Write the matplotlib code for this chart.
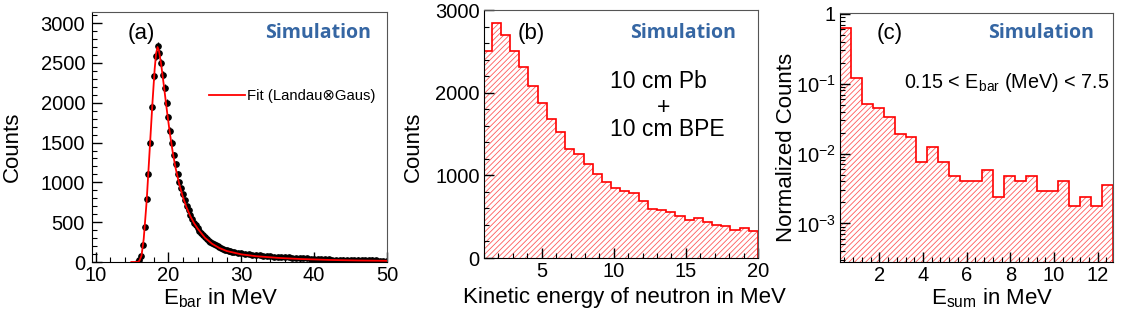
import numpy as np
import matplotlib
matplotlib.use('Agg')
import matplotlib.pyplot as plt
from matplotlib.ticker import MultipleLocator, FixedLocator, FixedFormatter, LogLocator, NullFormatter

# ---- data ----
# (a) Ebar spectrum: counts per bin (0.25 MeV bins up to 29 MeV, 0.5 MeV after)
ebar_fine_counts = [4, 22, 70, 210, 440, 790, 1110, 1500, 1950, 2330,
                    2590, 2710, 2630, 2500, 2350, 2190, 2000, 1820, 1650, 1500,
                    1350, 1230, 1110, 1010, 930, 850, 780, 705, 650, 595,
                    540, 495, 462, 425, 395, 362, 338, 312, 292, 270,
                    255, 236, 222, 208, 196, 185, 174, 165, 156, 149,
                    141, 135, 128, 122]
ebar_tail_counts = [113, 108, 101, 97, 91, 87, 83, 79, 75, 71,
                    68, 65, 62, 59, 57, 54, 51, 49, 47, 45,
                    43, 41, 39, 37, 35, 33, 31, 30, 28, 27,
                    26, 25, 24, 23, 22, 21, 20, 19, 19, 18,
                    17, 16]
fit_x = [14.9, 15.8, 16.0, 16.3, 16.6, 17.0, 17.4, 17.8, 18.1, 18.3, 18.5, 18.7,
         19.0, 19.4, 19.8, 20.2, 20.6, 21.0, 21.5, 22.0, 22.5, 23.0, 23.5, 24.0,
         25.0, 26.0, 27.0, 28.0, 30.0, 32.0, 35.0, 38.0, 42.0, 46.0, 50.0]
fit_y = [0, 0, 15, 80, 290, 760, 1380, 2000, 2420, 2620, 2700, 2650,
         2480, 2190, 1890, 1610, 1370, 1170, 970, 810, 680, 575, 490, 420,
         305, 228, 175, 138, 96, 73, 52, 38, 26, 19, 15]

# (b) neutron kinetic energy histogram
ke_counts = [2500, 2840, 2700, 2510, 2310, 2085, 1875, 1685, 1530, 1315,
             1260, 1135, 1020, 915, 845, 815, 785, 685, 598, 575,
             555, 503, 463, 483, 431, 395, 383, 342, 362, 330]

# (c) Esum, normalized
esum_counts = [0.62, 0.12, 0.051, 0.045, 0.033, 0.019, 0.0173, 0.0075, 0.0125, 0.0075,
               0.0047, 0.0040, 0.0040, 0.0058, 0.00238, 0.0047, 0.0040, 0.0047, 0.0029, 0.0029,
               0.0040, 0.0018, 0.00238, 0.0018, 0.0036]

# ---- style ----
plt.rcParams['font.family'] = ['Liberation Sans', 'DejaVu Sans']
plt.rcParams['mathtext.fontset'] = 'custom'
plt.rcParams['mathtext.rm'] = 'Liberation Sans'
plt.rcParams['mathtext.it'] = 'Liberation Sans:italic'
plt.rcParams['hatch.linewidth'] = 0.6

W, H = 1121, 317
BLUE = '#3566a3'
fig = plt.figure(figsize=(W / 100, H / 100), dpi=100)


def px_axes(l, t, r, b):
    return fig.add_axes([l / W, 1 - b / H, (r - l) / W, (b - t) / H])


def px_text(x, y, s, **kw):
    fig.text(x / W, 1 - y / H, s, **kw)


def root_style(ax):
    for side in ['top', 'right']:
        ax.spines[side].set_color('#555555')
    ax.tick_params(which='both', direction='in', top=False, right=False, labelsize=14.5, pad=3)
    ax.tick_params(which='major', length=7, width=1)
    ax.tick_params(which='minor', length=3.5, width=0.8)


def place_labels(ax, xl, xx, xy, yl, yx, yy):
    ax.set_xlabel(xl, fontsize=16)
    ax.set_ylabel(yl, fontsize=16)
    ax.xaxis.set_label_coords(xx / W, 1 - xy / H, transform=fig.transFigure)
    ax.yaxis.set_label_coords(yx / W, 1 - yy / H, transform=fig.transFigure)
    ax.xaxis.label.set_va('center')
    ax.yaxis.label.set_va('center')


def hatched_hist(ax, values, edges, base):
    ax.stairs(values, edges, baseline=base, fill=True, facecolor='none',
              edgecolor='#ff5a5a', linewidth=0, hatch='//////')
    ax.stairs(values, edges, baseline=base, color='#ff0000', linewidth=1.2)


# ---- (a) ----
ax1 = px_axes(92, 12, 387, 262)
ebar_x = np.concatenate([np.arange(15.75, 29.01, 0.25), np.arange(29.5, 50.01, 0.5)])
ebar_y = np.array(ebar_fine_counts + ebar_tail_counts, dtype=float)
ax1.errorbar(ebar_x, ebar_y, yerr=np.sqrt(ebar_y), fmt='o', color='black', ms=3.8,
             elinewidth=0.9, capsize=0, zorder=2)
ax1.plot(fit_x, fit_y, color='#ff0000', lw=1.3, zorder=3, label='Fit (Landau\u2297Gaus)')
ax1.set_xlim(9.5, 50)
ax1.set_ylim(0, 3140)
ax1.xaxis.set_major_locator(MultipleLocator(10))
ax1.xaxis.set_minor_locator(MultipleLocator(2))
ax1.yaxis.set_major_locator(MultipleLocator(500))
ax1.yaxis.set_minor_locator(MultipleLocator(100))
root_style(ax1)
ax1.tick_params(axis='y', pad=5)
place_labels(ax1, r'E$_{\rm bar}$ in MeV', 221, 298, 'Counts', 12, 147)
ax1.legend(loc='center left', bbox_to_anchor=(209 / W, 1 - 96 / H), bbox_transform=fig.transFigure,
           frameon=False, fontsize=10.7, borderpad=0, borderaxespad=0, handlelength=2.4,
           handletextpad=0.15)
px_text(128, 33, '(a)', fontsize=16, va='center')
px_text(265, 33, 'Simulation', fontsize=14, fontweight='bold', color=BLUE, va='center',
        family='Open Sans')

# ---- (b) ----
ax2 = px_axes(484, 10, 758, 258)
hatched_hist(ax2, ke_counts, np.linspace(0.9, 20, len(ke_counts) + 1), 0)
ax2.set_xlim(1, 20)
ax2.set_ylim(0, 3000)
ax2.xaxis.set_major_locator(MultipleLocator(5))
ax2.xaxis.set_minor_locator(MultipleLocator(1))
ax2.yaxis.set_major_locator(MultipleLocator(1000))
ax2.yaxis.set_minor_locator(MultipleLocator(200))
root_style(ax2)
place_labels(ax2, 'Kinetic energy of neutron in MeV', 624, 298, 'Counts', 413, 147)
px_text(518, 33, '(b)', fontsize=16, va='center')
px_text(630, 33, 'Simulation', fontsize=14, fontweight='bold', color=BLUE, va='center',
        family='Open Sans')
px_text(610, 82, '10 cm Pb', fontsize=16.5, va='center')
px_text(664, 107, '+', fontsize=16.5, va='center', ha='center')
px_text(610, 130, '10 cm BPE', fontsize=16.5, va='center')

# ---- (c) ----
ax3 = px_axes(840, 12.7, 1113, 262)
hatched_hist(ax3, esum_counts, np.linspace(0.2, 12.7, len(esum_counts) + 1), 1e-6)
ax3.set_yscale('log')
ax3.set_xlim(0.2, 12.7)
ax3.set_ylim(2.8e-4, 1.04)
ax3.xaxis.set_major_locator(MultipleLocator(2))
ax3.xaxis.set_minor_locator(MultipleLocator(0.4))
ax3.yaxis.set_major_locator(FixedLocator([1e-3, 1e-2, 1e-1, 1]))
ax3.yaxis.set_major_formatter(FixedFormatter([r'$10^{-3}$', r'$10^{-2}$', r'$10^{-1}$', '1']))
ax3.yaxis.set_minor_locator(LogLocator(base=10, subs=np.arange(2, 10)))
ax3.yaxis.set_minor_formatter(NullFormatter())
root_style(ax3)
place_labels(ax3, r'E$_{\rm sum}$ in MeV', 992, 298, 'Normalized Counts', 787, 147)
px_text(877, 33, '(c)', fontsize=16, va='center')
px_text(988, 33, 'Simulation', fontsize=14, fontweight='bold', color=BLUE, va='center',
        family='Open Sans')
px_text(904, 83, r'0.15 < E$_{\rm bar}$ (MeV) < 7.5', fontsize=14.2, va='center')

fig.savefig('out.png', dpi=100)
